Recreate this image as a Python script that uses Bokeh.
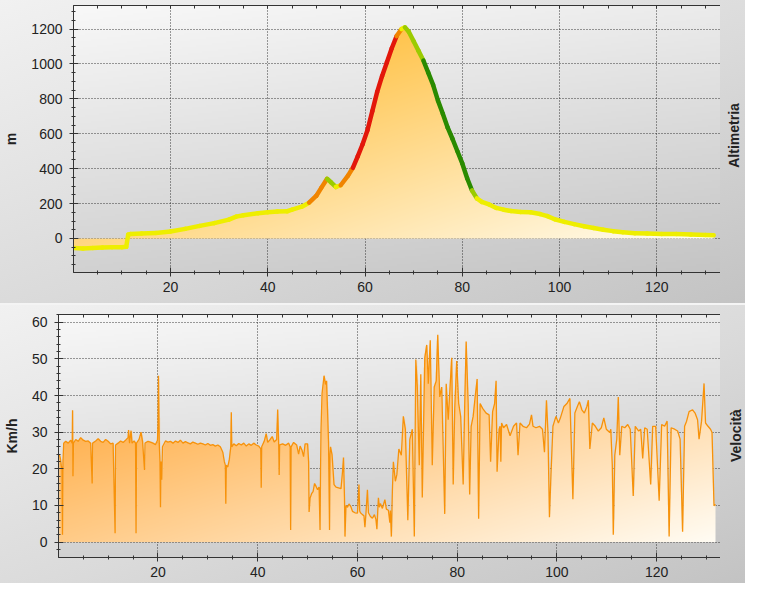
import numpy as np
from bokeh.plotting import figure
from bokeh.layouts import column, row
from bokeh.models import FixedTicker, Range1d, ColumnDataSource, LinearAxis
from bokeh.core.properties import value
from bokeh.embed import file_html
from bokeh.resources import INLINE

# ---------------- data ----------------
elev_km = [0.1, 2.0, 4.0, 6.0, 8.0, 10.0, 10.9, 11.3, 11.8, 14.0, 17.0, 20.0, 23.0, 26.0, 29.0, 32.0,
           33.5, 35.0, 38.0, 40.0, 42.0, 44.0, 45.0, 47.0, 48.5, 50.0, 51.0, 52.2, 53.0, 54.0, 55.0,
           56.5, 57.5, 58.5, 59.5, 60.5, 61.5, 62.5, 63.5, 64.5, 65.5, 66.5, 67.5, 68.2, 69.0, 70.0,
           71.0, 72.0, 73.0, 74.0, 75.0, 76.0, 77.0, 78.0, 79.0, 80.0, 81.0, 82.0, 83.0, 84.0, 85.5,
           87.0, 88.5, 90.0, 92.0, 94.0, 96.0, 97.5, 99.0, 101.0, 103.0, 105.0, 107.0, 109.0, 111.0,
           113.0, 115.5, 118.0, 121.0, 124.0, 127.0, 130.0, 131.7]
elev_m = [-55, -58, -55, -52, -50, -50, -48, 22, 26, 28, 32, 40, 55, 72, 88, 108,
          125, 133, 145, 150, 155, 156, 165, 182, 205, 245, 290, 342, 322, 295, 305,
          360, 405, 470, 540, 620, 730, 840, 930, 1010, 1090, 1160, 1200, 1210, 1185, 1130,
          1075, 1020, 950, 880, 790, 715, 635, 570, 500, 430, 345, 275, 230, 210, 195,
          175, 165, 157, 152, 150, 140, 128, 110, 95, 82, 70, 60, 50, 42,
          36, 30, 28, 26, 25, 23, 20, 19]

speed_km = [0.2, 0.4, 0.6, 0.75, 0.85, 0.95, 1.1, 1.5, 2.0, 2.5, 2.8, 2.87, 2.95, 3.05, 3.5, 4.0, 4.5,
            5.0, 5.5, 6.0, 6.5, 6.8, 6.9, 7.5, 8.0, 8.5, 9.0, 9.5, 10.0, 10.5, 11.0, 11.4, 11.5,
            12.0, 12.5, 13.0, 13.5, 14.0, 14.1, 14.3, 14.6, 14.8, 15.2, 15.5, 15.6, 15.7, 16.2,
            16.6, 16.9, 17.3, 17.4, 18.0, 18.5, 19.0, 19.5, 19.9, 20.0, 20.1, 20.25, 20.4, 20.5,
            20.6, 20.75, 20.9, 21.5, 22.0, 22.5, 23.0, 23.5, 24.0, 24.5, 25.0, 25.5, 26.0, 26.5,
            27.0, 27.5, 28.0, 28.5, 29.0, 29.5, 30.0, 30.5, 31.0, 31.5, 32.0, 32.5, 33.0, 33.3,
            33.5, 33.6, 33.7, 34.0, 34.3, 34.6, 34.7, 34.8, 35.2, 35.7, 36.2, 36.7, 37.2, 37.7,
            38.2, 38.7, 39.2, 39.7, 40.2, 40.6, 40.7, 40.8, 41.3, 41.7, 42.0, 42.5, 42.9, 43.3,
            43.8, 44.0, 44.2, 44.3, 44.4, 45.0, 45.6, 46.2, 46.5, 46.6, 46.7, 47.2, 47.8, 48.2,
            48.5, 48.9, 49.2, 49.5, 50.0, 50.2, 50.3, 50.5, 50.8, 51.1, 51.4, 51.7, 52.0, 52.3,
            52.5, 52.6, 52.7, 52.9, 53.3, 53.6, 53.8, 54.0, 54.2, 54.4, 54.5, 54.6, 54.9, 55.3,
            55.7, 56.2, 56.7, 57.0, 57.2, 57.4, 57.5, 57.7, 58.0, 58.3, 58.7, 59.0, 59.5, 60.0,
            60.3, 60.45, 60.6, 61.0, 61.3, 61.5, 61.7, 62.0, 62.2, 62.6, 63.0, 63.4, 63.7, 63.9,
            64.05, 64.2, 64.4, 64.6, 65.0, 65.5, 65.8, 66.2, 66.5, 66.6, 66.8, 67.0, 67.2, 67.6,
            67.9, 68.3, 68.8, 69.2, 69.6, 70.1, 70.5, 71.0, 71.4, 71.7, 72.0, 72.4, 72.7, 73.0,
            73.5, 73.9, 74.2, 74.6, 75.0, 75.4, 75.8, 76.1, 76.5, 76.9, 77.5, 77.8, 78.2, 78.9,
            79.2, 79.5, 79.9, 80.3, 80.7, 81.2, 81.5, 81.8, 82.2, 82.5, 82.8, 83.2, 83.6, 84.0,
            84.3, 84.6, 85.1, 85.8, 86.4, 86.7, 87.1, 87.5, 87.8, 88.0, 88.4, 88.6, 88.75, 88.9,
            89.3, 89.9, 90.6, 91.3, 91.9, 92.2, 92.6, 93.2, 93.9, 94.5, 94.9, 95.2, 95.8, 96.5,
            97.1, 97.5, 97.9, 98.2, 98.5, 98.8, 99.2, 99.8, 100.3, 100.7, 101.4, 102.0, 102.6,
            103.2, 103.6, 104.1, 104.5, 105.0, 105.5, 106.0, 106.3, 106.6, 107.1, 107.7, 108.3,
            108.9, 109.4, 109.9, 110.6, 110.8, 111.1, 111.3, 111.6, 112.0, 112.3, 112.6, 113.0,
            113.6, 114.2, 114.7, 115.3, 115.7, 116.4, 116.8, 117.2, 117.6, 118.1, 118.8, 119.2,
            119.8, 120.5, 121.0, 121.6, 122.1, 122.5, 122.9, 123.6, 124.2, 124.7, 125.2, 125.6,
            126.0, 126.5, 127.2, 127.7, 128.2, 128.5, 129.0, 129.5, 129.8, 130.3, 130.8, 131.1,
            131.5, 131.8]
speed_kmh = [24, 23, 21, 20, 2, 22, 27, 27.5, 27, 27.8, 27, 36, 18, 27, 28, 27.5, 28.5,
             27.8, 27.5, 27.6, 27, 16, 27, 27.6, 28.2, 27.5, 27.2, 28, 27.5, 26.8, 27, 2.4, 26.5,
             27, 27.6, 27.2, 27.8, 28.5, 30.6, 27, 30.4, 27, 27.6, 27, 2.4, 27, 28,
             30, 27.5, 19.7, 27, 27.5, 27.3, 27, 26.6, 27.8, 32, 45.4, 27, 22, 9.5,
             22, 17, 26, 27.6, 27.3, 27.5, 27, 27.6, 27.2, 27.8, 27, 27.4, 27.1, 26.8,
             27.3, 27, 26.7, 27, 26.8, 26.5, 26.9, 26.4, 26.6, 26.2, 26.5, 26, 24.5, 22,
             21, 10.5, 21, 20.5, 22.5, 26, 35.4, 26, 26.8, 26.3, 26.9, 26.5, 27, 26.2,
             26.8, 26.4, 27, 26.5, 26.2, 25.5, 14.8, 26, 27.5, 29.6, 27.2, 28, 28.8, 27.3,
             28, 36.2, 27, 18.3, 26.5, 26.8, 26.4, 27, 26, 3.3, 26, 27.2, 26.5, 24,
             26.2, 25, 23.3, 26.8, 26.8, 22, 8.2, 12, 13.2, 13.8, 16, 15.2, 14.3, 15,
             3.3, 20, 31.2, 40.5, 45.4, 43, 44, 36, 27.2, 3.3, 24, 26, 23.9, 15.7,
             15, 14.8, 14.6, 19.2, 23.1, 12, 1.5, 10, 9.5, 10.4, 9.6, 8.4, 8, 7.9,
             15.7, 8.5, 8, 7.5, 7.2, 4.1, 7.8, 14.3, 8, 7, 6.5, 7.5, 6.2, 3.5,
             8, 12.1, 9.5, 10.5, 9.2, 11.6, 9, 8.7, 5.3, 8.6, 1.5, 13.9, 21.9, 16.6,
             18.4, 25.4, 23.7, 34.3, 30.8, 6, 28, 30.8, 1.5, 49.8, 42.3, 21, 45.8, 12.2,
             50.3, 53.8, 43.2, 55.1, 21, 42.3, 44, 56.6, 39.6, 42.3, 7.7, 43.2, 33.4, 50.3,
             15.7, 36.1, 49.4, 37.8, 34.3, 15.7, 37, 54.7, 37.8, 13, 31.6, 34.3, 39.6, 44.5,
             6.4, 37.8, 36.5, 35.2, 34.7, 21.9, 35.6, 37.8, 44, 19.2, 30.8, 31.6, 21.9, 32.5,
             31.2, 32.1, 29, 31.6, 32.5, 23.7, 32.5, 31.6, 31.2, 32.2, 34.7, 31.6, 31.2, 31.6,
             30.8, 24.5, 38.7, 29.9, 6.8, 18.3, 31.6, 34.3, 32.5, 33.9, 37, 37.8, 39.2,
             11.7, 35.2, 37, 38.3, 36.1, 35.2, 37, 38.7, 25.4, 32.5, 31.6, 30.3,
             31.2, 33.9, 30.8, 29.9, 30.8, 21, 2, 23.7, 28.1, 39.6, 23.7, 31.6,
             31.2, 32.1, 30.8, 12.6, 31.6, 30.3, 30.8, 22.8, 31.2, 30.8, 15.7, 31.6,
             31.6, 11.3, 32.1, 31.6, 33, 1.5, 31.2, 30.8, 30.3, 28.1, 2.8, 31.6,
             33, 35.6, 36.1, 35.2, 33.4, 28.1, 33, 43.3, 32.5, 31.6, 30.8, 29.9,
             9.9, 10.3]

x_ticks = [20, 40, 60, 80, 100, 120]
x_minor = list(range(5, 135, 5))
elev_ticks = [0, 200, 400, 600, 800, 1000, 1200]
elev_minor = list(range(-150, 1336, 50))
speed_ticks = [0, 10, 20, 30, 40, 50, 60]
speed_minor = list(range(-2, 63, 2))

# ---------------- helpers ----------------
FONT = "Liberation Sans"
TXT = "#222222"
AX = "#333333"
PANEL_BG = "linear-gradient(160deg, #f1f1f1 0%, #dadada 55%, #c3c3c3 100%)"


def hex_rgb(h):
    return np.array([int(h[i:i + 2], 16) for i in (1, 3, 5)], float)


def rgba_image(alpha, rgb):
    H, W = alpha.shape
    img = np.empty((H, W), dtype=np.uint32)
    v = img.view(dtype=np.uint8).reshape((H, W, 4))
    v[..., :3] = np.clip(np.round(rgb), 0, 255).astype(np.uint8)
    v[..., 3] = np.clip(np.round(alpha * 255), 0, 255).astype(np.uint8)
    return img


def diag_rgb(W, H, c0, c1, wu, wv):
    u = (np.arange(W) + 0.5) / W
    v = (np.arange(H) + 0.5) / H
    t = np.clip(wu * u[None, :] + wv * (1 - v[:, None]), 0, 1)
    a, b = hex_rgb(c0), hex_rgb(c1)
    return a + (b - a) * t[..., None]


def area_image(xs, ys, x_lo, x_hi, y_lo, y_hi, W, H, c0, c1):
    S = 4
    sx = x_lo + (np.arange(W * S) + 0.5) * (x_hi - x_lo) / (W * S)
    cv = np.interp(sx, np.asarray(xs, float), np.asarray(ys, float))
    yc = y_lo + (np.arange(H) + 0.5) * (y_hi - y_lo) / H
    Y = yc[:, None]
    C = cv[None, :]
    inside = ((Y <= C) & (Y >= 0)) | ((Y >= C) & (Y <= 0))
    alpha = inside.reshape(H, W, S).mean(axis=2)
    return rgba_image(alpha, diag_rgb(W, H, c0, c1, 0.5, 0.5))


def bg_image(W, H):
    rgb = diag_rgb(W, H, "#f8f8f8", "#c4c4c4", 0.25, 0.75)
    return rgba_image(np.ones((H, W)), rgb)


def style_axes(p, yticks, yminor, ylabel, label_standoff):
    xt = FixedTicker(ticks=x_ticks, minor_ticks=x_minor)
    yt = FixedTicker(ticks=yticks, minor_ticks=yminor)
    bottom = p.below[0]
    left = p.left[0]
    bottom.ticker = xt
    left.ticker = yt
    for ax in (bottom, left):
        ax.major_tick_in = 5
        ax.major_tick_out = 4
        ax.minor_tick_in = 2
        ax.minor_tick_out = 2
        ax.axis_line_color = AX
        ax.major_tick_line_color = AX
        ax.minor_tick_line_color = AX
        ax.major_label_text_font = FONT
        ax.major_label_text_font_size = "14px"
        ax.major_label_text_color = TXT
    bottom.major_label_standoff = 5
    left.major_label_standoff = 7
    left.axis_label = ylabel
    left.axis_label_text_font = FONT
    left.axis_label_text_font_size = "14px"
    left.axis_label_text_font_style = "bold"
    left.axis_label_text_color = TXT
    left.axis_label_standoff = label_standoff

    # ticks only along the top edge
    top = LinearAxis(ticker=xt, major_label_text_font_size="1px", major_label_text_color=None,
                     major_label_standoff=0,
                     major_tick_out=0, major_tick_in=3, minor_tick_out=0, minor_tick_in=3,
                     axis_line_color=AX, major_tick_line_color=AX, minor_tick_line_color=AX)
    p.add_layout(top, "above")

    for g in (p.xgrid, p.ygrid):
        g.grid_line_color = "#1a1a1a"
        g.grid_line_alpha = 0.85
        g.grid_line_dash = "1 2"
        g.grid_line_width = 1
    p.outline_line_color = AX
    p.outline_line_alpha = 1
    p.border_fill_color = None
    p.background_fill_color = "#dedede"


def make_panel(width, height, bl, bt, bb, xr, yr):
    p = figure(width=width, height=height, x_range=Range1d(*xr), y_range=Range1d(*yr),
               output_backend="svg", toolbar_location=None,
               min_border_left=bl, min_border_right=0, min_border_top=bt, min_border_bottom=bb)
    fw = width - bl
    fh = height - bt - bb
    return p, fw, fh


def side_title(text, width, height, bt, fh, x_off, nudge):
    """Narrow companion canvas that carries the vertical title right of a panel."""
    f = figure(width=width, height=height, x_range=Range1d(-x_off, width - x_off),
               y_range=Range1d(0, height), output_backend="svg", toolbar_location=None,
               x_axis_location=None, y_axis_location=None, min_border=0)
    f.grid.visible = False
    f.outline_line_color = None
    f.background_fill_color = None
    f.border_fill_color = None
    f.text(x=[0], y=[height - (bt + fh / 2) - nudge], text=[text], angle=np.pi / 2,
           text_align="center", text_baseline="middle", text_font=value(FONT),
           text_font_size="14px", text_font_style="bold", text_color=TXT)
    return f


TOTAL_W = 745

# ---------------- top panel: Altimetria ----------------
TX = (0.05, 133.1)
TY = (-195, 1335)
T_W, T_H, T_BL, T_BT, T_BB = 720, 303, 70, 5, 31
p1, fw1, fh1 = make_panel(T_W, T_H, T_BL, T_BT, T_BB, TX, TY)
style_axes(p1, elev_ticks, elev_minor, "m", 9)

p1.image_rgba(image=[bg_image(fw1 // 2, fh1 // 2)], x=TX[0], y=TY[0],
              dw=TX[1] - TX[0], dh=TY[1] - TY[0], level="image")

ppx1 = fw1 / (TX[1] - TX[0])
ppy1 = fh1 / (TY[1] - TY[0])
ex_lo, ex_hi = elev_km[0], elev_km[-1]
ey_lo, ey_hi = min(min(elev_m), 0), max(elev_m)
W1 = int(round((ex_hi - ex_lo) * ppx1))
H1 = int(round((ey_hi - ey_lo) * ppy1))
p1.image_rgba(image=[area_image(elev_km, elev_m, ex_lo, ex_hi, ey_lo, ey_hi, W1, H1,
                                "#ffaf10", "#fffff8")],
              x=ex_lo, y=ey_lo, dw=ex_hi - ex_lo, dh=ey_hi - ey_lo)

YELLOW, RED, ORANGE, GREEN, YGREEN = "#eeee00", "#e3170a", "#f08400", "#2a8a00", "#9bcb00"


def grade_color(dx, dy):
    g = dy / dx  # metres per km
    if abs(g) > 150:
        return YELLOW
    if g > 55:
        return RED
    if g > 25:
        return ORANGE
    if g < -55:
        return GREEN
    if g < -25:
        return YGREEN
    return YELLOW


seg = ColumnDataSource(dict(
    x0=elev_km[:-1], y0=elev_m[:-1], x1=elev_km[1:], y1=elev_m[1:],
    c=[grade_color(elev_km[i + 1] - elev_km[i], elev_m[i + 1] - elev_m[i])
       for i in range(len(elev_km) - 1)]))
p1.segment(x0="x0", y0="y0", x1="x1", y1="y1", color="c", line_width=4.5,
           line_cap="round", source=seg)

t1 = side_title("Altimetria", TOTAL_W - T_W, T_H, T_BT, fh1, 13, 9)

# ---------------- bottom panel: Velocità ----------------
BX = (0.05, 132.8)
BY = (-4.2, 62.1)
B_W, B_H, B_BL, B_BT, B_BB = 720, 278, 55, 9, 26
p2, fw2, fh2 = make_panel(B_W, B_H, B_BL, B_BT, B_BB, BX, BY)
style_axes(p2, speed_ticks, speed_minor, "Km/h", 9)

p2.image_rgba(image=[bg_image(fw2 // 2, fh2 // 2)], x=BX[0], y=BY[0],
              dw=BX[1] - BX[0], dh=BY[1] - BY[0], level="image")

ppx2 = fw2 / (BX[1] - BX[0])
ppy2 = fh2 / (BY[1] - BY[0])
sx_lo, sx_hi = speed_km[0], speed_km[-1]
sy_lo, sy_hi = 0, max(speed_kmh)
W2 = int(round((sx_hi - sx_lo) * ppx2))
H2 = int(round((sy_hi - sy_lo) * ppy2))
p2.image_rgba(image=[area_image(speed_km, speed_kmh, sx_lo, sx_hi, sy_lo, sy_hi, W2, H2,
                                "#ff9a1c", "#fffcf4")],
              x=sx_lo, y=sy_lo, dw=sx_hi - sx_lo, dh=sy_hi - sy_lo)

p2.line(speed_km, speed_kmh, line_color="#f7920a", line_width=1.3)

t2 = side_title("Velocità", TOTAL_W - B_W, B_H, B_BT, fh2, 15, 8)

r1 = row(p1, t1, spacing=0, styles={"background": PANEL_BG})
r2 = row(p2, t2, spacing=0, styles={"background": PANEL_BG})
layout = column(r1, r2, spacing=2, styles={"background-color": "#f4f4f4"})
open("out.html", "w").write(file_html(layout, INLINE))
